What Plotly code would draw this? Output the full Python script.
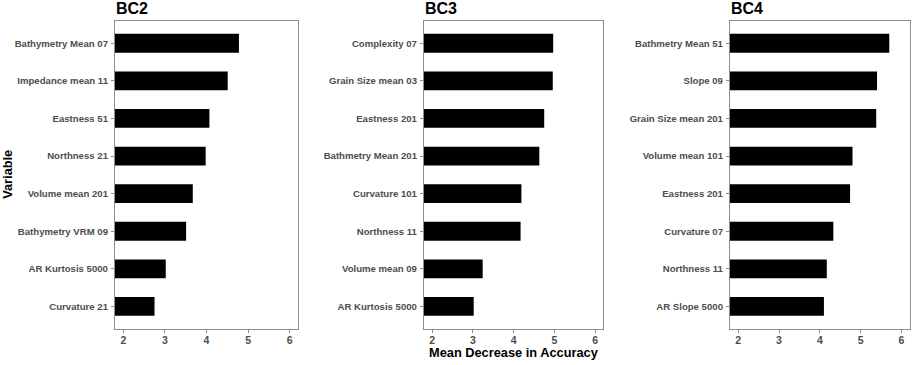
import plotly.graph_objects as go

W, H = 913, 365

bc2_vars = ["Bathymetry Mean 07", "Impedance mean 11", "Eastness 51", "Northness 21",
            "Volume mean 201", "Bathymetry VRM 09", "AR Kurtosis 5000", "Curvature 21"]
bc2_vals = [4.78, 4.51, 4.07, 3.98, 3.67, 3.51, 3.02, 2.75]

bc3_vars = ["Complexity 07", "Grain Size mean 03", "Eastness 201", "Bathmetry Mean 201",
            "Curvature 101", "Northness 11", "Volume mean 09", "AR Kurtosis 5000"]
bc3_vals = [4.97, 4.96, 4.75, 4.63, 4.19, 4.17, 3.24, 3.02]

bc4_vars = ["Bathmetry Mean 51", "Slope 09", "Grain Size mean 201", "Volume mean 101",
            "Eastness 201", "Curvature 07", "Northness 11", "AR Slope 5000"]
bc4_vals = [5.70, 5.40, 5.38, 4.80, 4.74, 4.33, 4.17, 4.10]

titles = ["BC2", "BC3", "BC4"]
x_ticks = [2, 3, 4, 5, 6]


def px(x):
    return x / W


def py(y):
    return 1 - y / H


panels = [(bc2_vars, bc2_vals), (bc3_vars, bc3_vals), (bc4_vars, bc4_vals)]
xdomains = [(px(115), px(298)), (px(424), px(603.3)), (px(730), px(909.7))]
ydom = (py(329), py(20.7))

FONT = "Liberation Sans, Arial, sans-serif"
fig = go.Figure()
layout = {}
for i, ((vars_, vals), dom) in enumerate(zip(panels, xdomains)):
    sfx = "" if i == 0 else str(i + 1)
    fig.add_trace(go.Bar(
        x=vals, y=vars_, orientation="h", width=0.5,
        marker=dict(color="black", line=dict(width=0)),
        xaxis="x" + sfx, yaxis="y" + sfx, showlegend=False,
    ))
    common = dict(showline=True, mirror=True, linecolor="#8c8c8c", linewidth=1.2,
                  ticks="outside", ticklen=3, tickcolor="#8c8c8c", showgrid=False,
                  zeroline=False)
    layout["xaxis" + sfx] = dict(domain=list(dom), anchor="y" + sfx, range=[1.8, 6.2],
                                 tickvals=x_ticks, ticklabelstandoff=-2,
                                 tickfont=dict(family=FONT, size=10.5, color="#4d4d4d",
                                               weight="bold"), **common)
    layout["yaxis" + sfx] = dict(domain=list(ydom), anchor="x" + sfx, type="category",
                                 categoryorder="array", categoryarray=vars_,
                                 range=[7.6, -0.6], ticklabelstandoff=1,
                                 tickfont=dict(family=FONT, size=9.6, color="#4d4d4d",
                                               weight="bold"), **common)
    fig.add_annotation(text="<b>%s</b>" % titles[i], xref="paper", yref="paper",
                       x=dom[0] - px(1.5), y=py(19), xanchor="left", yanchor="bottom",
                       showarrow=False, font=dict(family=FONT, size=16, color="black"))

fig.add_annotation(text="<b>Variable</b>", xref="paper", yref="paper",
                   x=px(8), y=(ydom[0] + ydom[1]) / 2, textangle=-90,
                   xanchor="center", yanchor="middle", showarrow=False,
                   font=dict(family=FONT, size=12.8, color="black"))
fig.add_annotation(text="<b>Mean Decrease in Accuracy</b>", xref="paper", yref="paper",
                   x=px(513.5), y=py(352),
                   xanchor="center", yanchor="middle", showarrow=False,
                   font=dict(family=FONT, size=12.8, color="black"))

fig.update_layout(width=W, height=H, margin=dict(l=0, r=0, t=0, b=0),
                  plot_bgcolor="white", paper_bgcolor="white", bargap=0.5, **layout)
fig.write_html("out.html", config={"displayModeBar": False},
               post_script="document.body.style.margin='0';document.body.style.overflow='hidden';")
